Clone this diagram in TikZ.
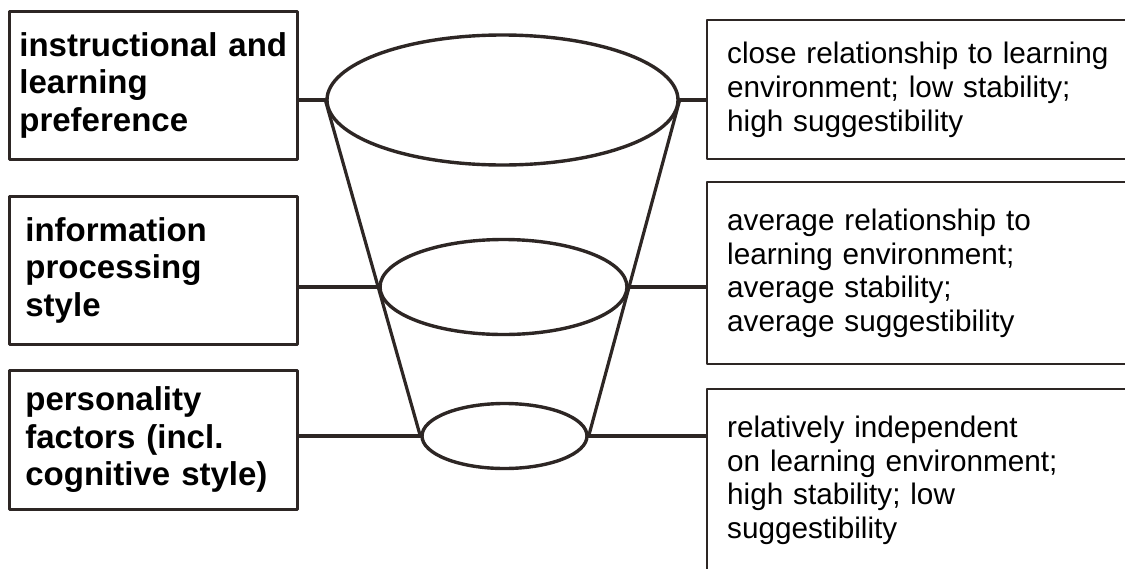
\documentclass[tikz,border=0pt]{standalone}
\usepackage{fontspec}
\setmainfont{Liberation Sans}
\usetikzlibrary{shapes.geometric}
\definecolor{funnelink}{RGB}{45,38,36}

\begin{document}
\begin{tikzpicture}[x=1pt,y=-1pt,line cap=round,line join=round,
 levelbox/.style={draw=funnelink,line width=2.8pt,anchor=north west,
  align=left,inner ysep=0pt,minimum width=288pt,
  font=\fontsize{33}{37.5}\selectfont\bfseries},
 effectbox/.style={draw=funnelink,line width=2.4pt,anchor=north west,
  align=left,inner xsep=20pt,inner ysep=0pt,text width=389pt,
  font=\fontsize{29.7}{33.7}\selectfont},
 rim/.style={draw=funnelink,ellipse,line width=3.4pt,inner sep=0pt},
 link/.style={draw=funnelink,line width=3.2pt}]
 \useasboundingbox (0,0) rectangle (1125,568);
 % Linke Spalte: die drei Ebenen.
 \node[levelbox,inner xsep=10pt,text width=268pt,minimum height=148pt]
  (level1) at (8,10) {instructional and\\learning\\preference};
 \node[levelbox,inner xsep=16pt,text width=256pt,minimum height=148pt]
  (level2) at (8,195) {information\\processing\\style};
 \node[levelbox,inner xsep=16pt,text width=256pt,minimum height=139pt]
  (level3) at (8,369) {personality\\factors (incl.\\cognitive style)};
 % Rechte Spalte: Eigenschaften je Ebene.
 \node[effectbox,minimum height=139pt] (effect1) at (706,19)
  {close relationship to learning\\environment; low stability;\\high suggestibility};
 \node[effectbox,minimum height=182pt] (effect2) at (706,181)
  {average relationship to\\learning environment;\\average stability;\\average suggestibility};
 \node[effectbox,minimum height=182pt] (effect3) at (706,388)
  {relatively independent\\on learning environment;\\high stability; low\\suggestibility};
 % Trichter aus drei Ringen.
 \node[rim,minimum width=351pt,minimum height=130pt] (rimtop) at (502.5,100) {};
 \node[rim,minimum width=247pt,minimum height=95pt] (rimmid) at (503.5,287) {};
 \node[rim,minimum width=165pt,minimum height=65pt] (rimbot) at (504.5,436) {};
 \draw[link] (rimtop.west)--(rimbot.west);
 \draw[link] (rimtop.east)--(rimbot.east);
 % Verbindungen zu den Kästen.
 \draw[link] (rimtop.west)--(rimtop.west -| level1.east);
 \draw[link] (rimmid.west)--(rimmid.west -| level2.east);
 \draw[link] (rimbot.west)--(rimbot.west -| level3.east);
 \draw[link] (rimtop.east)--(rimtop.east -| effect1.west);
 \draw[link] (rimmid.east)--(rimmid.east -| effect2.west);
 \draw[link] (rimbot.east)--(rimbot.east -| effect3.west);
\end{tikzpicture}
\end{document}
